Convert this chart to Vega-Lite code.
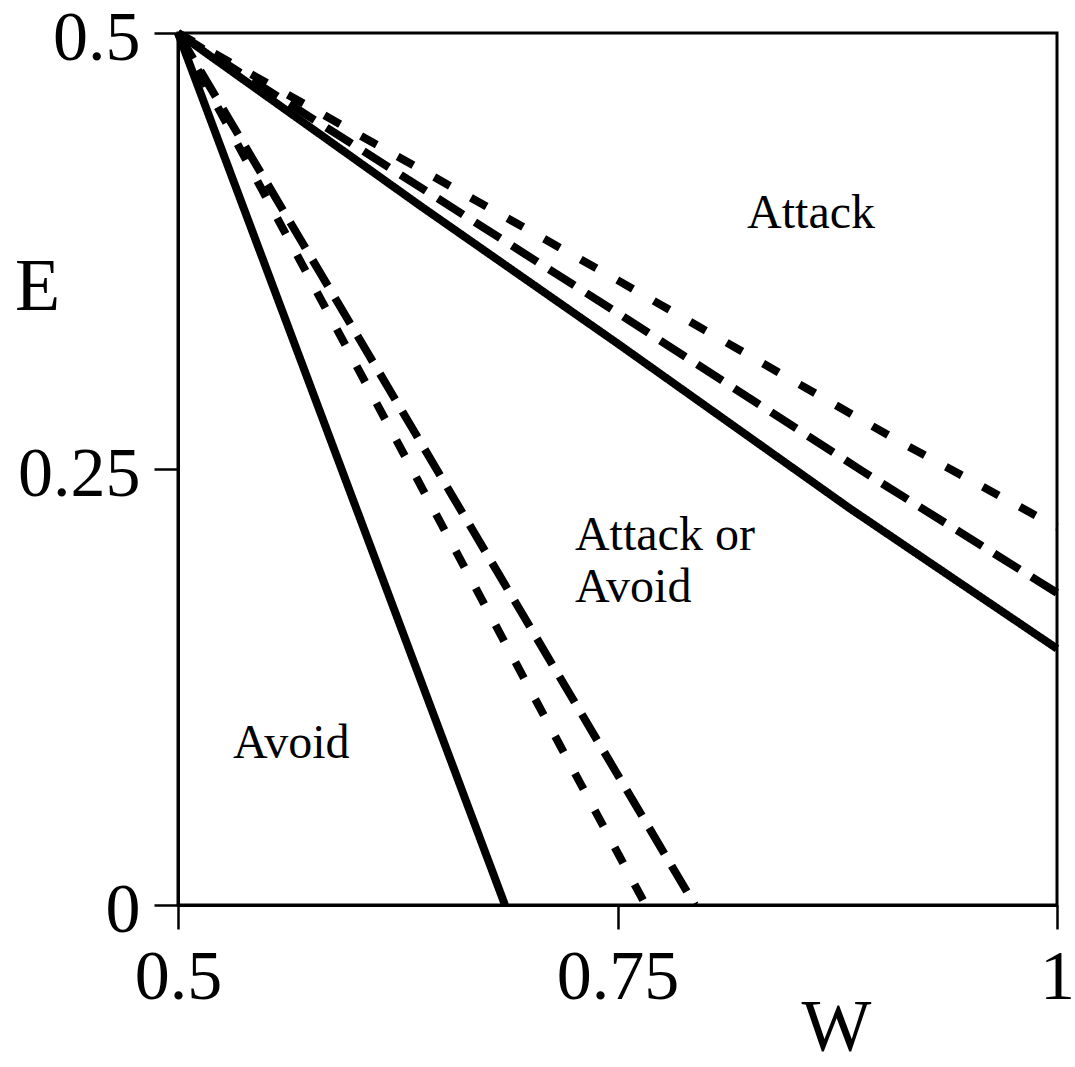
{
  "$schema": "https://vega.github.io/schema/vega-lite/v6.json",
  "width": 879,
  "height": 872,
  "autosize": {"type": "none"},
  "padding": {"left": 178, "top": 33, "right": 18, "bottom": 162},
  "background": "white",
  "config": {
    "view": {"stroke": "black", "strokeWidth": 3},
    "font": "Liberation Serif",
    "axis": {
      "domainColor": "black", "domainWidth": 3,
      "tickColor": "black", "tickWidth": 2.5, "tickSize": 24,
      "labelFont": "Liberation Serif", "labelFontSize": 70, "labelColor": "black",
      "titleFont": "Liberation Serif", "titleFontSize": 74, "titleFontWeight": "normal", "titleColor": "black",
      "grid": false
    }
  },
  "datasets": {
    "curves": [
      {"curve": "a1", "style": "solid", "W": 0.5, "E": 0.5},
      {"curve": "a1", "style": "solid", "W": 0.686, "E": 0.0},
      {"curve": "a2", "style": "short", "W": 0.5, "E": 0.5},
      {"curve": "a2", "style": "short", "W": 0.766, "E": 0.0},
      {"curve": "a3", "style": "long", "W": 0.5, "E": 0.5},
      {"curve": "a3", "style": "long", "W": 0.794, "E": 0.0},
      {"curve": "b1", "style": "solid", "W": 0.5, "E": 0.5},
      {"curve": "b1", "style": "solid", "W": 0.6377, "E": 0.401},
      {"curve": "b1", "style": "solid", "W": 0.75, "E": 0.322},
      {"curve": "b1", "style": "solid", "W": 0.882, "E": 0.2275},
      {"curve": "b1", "style": "solid", "W": 1.0, "E": 0.147},
      {"curve": "b2", "style": "long", "W": 0.5, "E": 0.5},
      {"curve": "b2", "style": "long", "W": 0.75, "E": 0.3395},
      {"curve": "b2", "style": "long", "W": 0.889, "E": 0.249},
      {"curve": "b2", "style": "long", "W": 1.0, "E": 0.179},
      {"curve": "b3", "style": "short", "W": 0.5, "E": 0.5},
      {"curve": "b3", "style": "short", "W": 0.75, "E": 0.3583},
      {"curve": "b3", "style": "short", "W": 0.909, "E": 0.2665},
      {"curve": "b3", "style": "short", "W": 1.0, "E": 0.2167}
    ],
    "labels": [
      {"text": "Attack", "W": 0.8237, "E": 0.3882},
      {"text": "Attack or", "W": 0.7258, "E": 0.2035},
      {"text": "Avoid", "W": 0.7258, "E": 0.1737},
      {"text": "Avoid", "W": 0.5313, "E": 0.0843}
    ]
  },
  "layer": [
    {
      "data": {"name": "curves"},
      "mark": {"type": "line", "color": "black", "strokeWidth": 8, "strokeCap": "butt"},
      "encoding": {
        "x": {
          "field": "W", "type": "quantitative",
          "scale": {"domain": [0.5, 1], "nice": false, "zero": false},
          "axis": {
            "values": [0.5, 0.75, 1], "labelExpr": "'' + datum.value",
            "labelPadding": 14, "labelFlush": false,
            "title": "W", "titleX": 658, "titleY": 145, "titleAlign": "center", "titleBaseline": "alphabetic"
          }
        },
        "y": {
          "field": "E", "type": "quantitative",
          "scale": {"domain": [0, 0.5], "nice": false},
          "axis": {
            "values": [0, 0.25, 0.5], "labelExpr": "'' + datum.value",
            "labelPadding": 14, "labelFlush": false, "labelOffset": 5,
            "title": "E", "titleAngle": 0, "titleX": -141, "titleY": 254, "titleAlign": "center", "titleBaseline": "middle"
          }
        },
        "detail": {"field": "curve"},
        "strokeDash": {
          "field": "style", "type": "nominal",
          "scale": {"domain": ["solid", "short", "long"], "range": [[1, 0], [18, 24], [30, 14]]},
          "legend": null
        },
        "order": {"field": "E", "sort": "descending"}
      }
    },
    {
      "data": {"name": "labels"},
      "mark": {"type": "text", "align": "left", "baseline": "alphabetic", "font": "Liberation Serif", "fontSize": 48, "color": "black"},
      "encoding": {
        "x": {"field": "W", "type": "quantitative"},
        "y": {"field": "E", "type": "quantitative"},
        "text": {"field": "text"}
      }
    }
  ]
}
